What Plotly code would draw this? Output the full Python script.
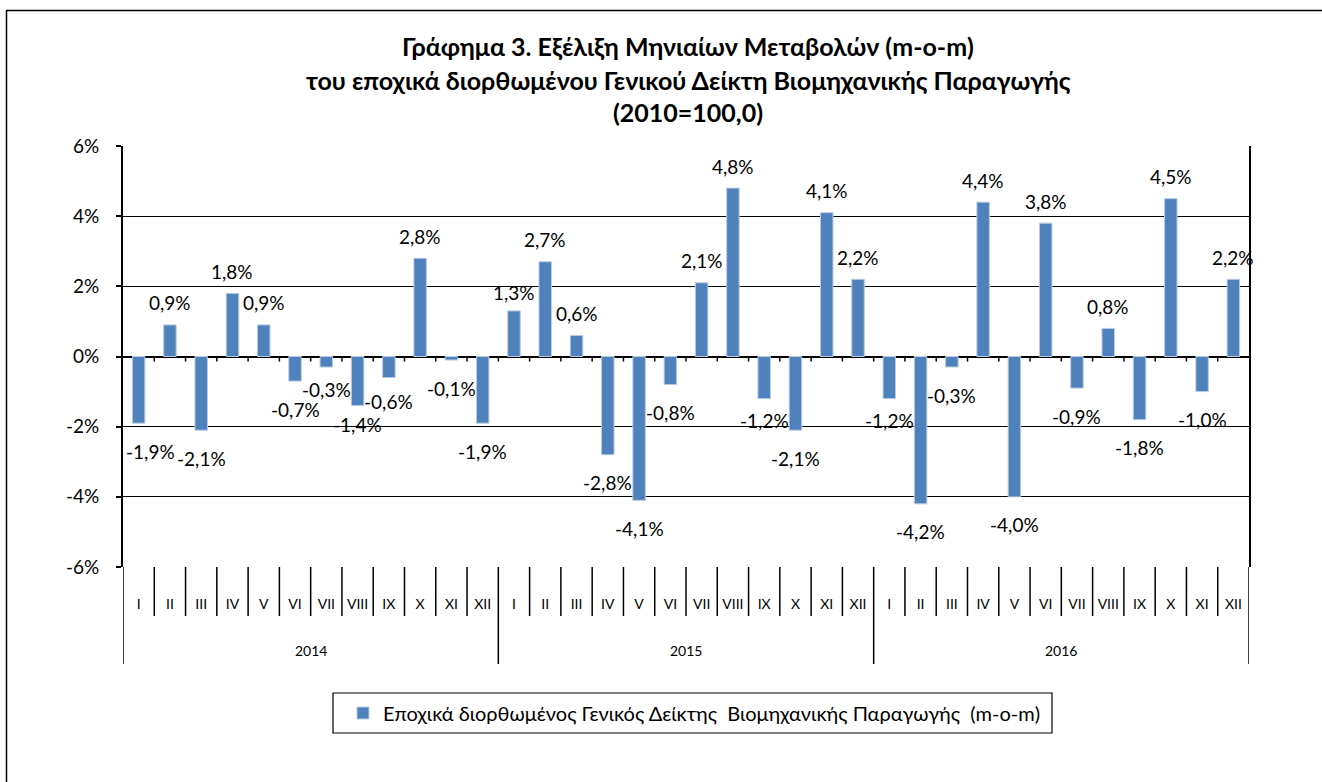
import plotly.graph_objects as go

# ---------------- data ----------------
MONTHS = ["I", "II", "III", "IV", "V", "VI", "VII", "VIII", "IX", "X", "XI", "XII"]
YEARS = ["2014", "2015", "2016"]
VALUES_2014 = [-1.9, 0.9, -2.1, 1.8, 0.9, -0.7, -0.3, -1.4, -0.6, 2.8, -0.1, -1.9]
VALUES_2015 = [1.3, 2.7, 0.6, -2.8, -4.1, -0.8, 2.1, 4.8, -1.2, -2.1, 4.1, 2.2]
VALUES_2016 = [-1.2, -4.2, -0.3, 4.4, -4.0, 3.8, -0.9, 0.8, -1.8, 4.5, -1.0, 2.2]
Y_TICKS = [-6, -4, -2, 0, 2, 4, 6]
SERIES_NAME = "Εποχικά διορθωμένος Γενικός Δείκτης  Βιομηχανικής Παραγωγής  (m-o-m)"
TITLE_LINES = [
    "Γράφημα 3. Εξέλιξη Μηνιαίων Μεταβολών (m-o-m)",
    "του εποχικά διορθωμένου Γενικού Δείκτη Βιομηχανικής Παραγωγής",
    "(2010=100,0)",
]

# ---------------- layout / style constants (pixels) ----------------
W, H = 1322, 782
L, R, T, B = 123, 1249, 146, 567
PW, PH = R - L, B - T
FONT = "Lato"
BAR_COLOR = "#4F81BD"
TITLE_CX = 688
TITLE_Y = [47, 80, 112]
TITLE_SIZE = 25
POS_GAP, NEG_GAP = 22, 28
# hand-placed label offsets (index -> (dx, gap)) as in the original chart
LABEL_NUDGE = {0: (12, 28), 6: (0, 22), 7: (0, 19), 8: (0, 24), 12: (0, 18),
               20: (0, 22), 24: (0, 22)}

values = VALUES_2014 + VALUES_2015 + VALUES_2016
year_values = [VALUES_2014, VALUES_2015, VALUES_2016]
x_idx = list(range(len(values)))
month_text = [m for _ in YEARS for m in MONTHS]


def fmt(v):
    return f"{v:.1f}".replace(".", ",") + "%"


def px_x(p):
    return (p - L) / PW


def px_y(p):
    return (B - p) / PH


fig = go.Figure()
fig.add_trace(go.Bar(
    x=x_idx, y=values, name=SERIES_NAME, width=0.4,
    marker=dict(color=BAR_COLOR, line=dict(color="#B8CCE4", width=1)),
    showlegend=True, hoverinfo="y",
))

annotations = []
# data labels
for i, v in zip(x_idx, values):
    dx, gap = LABEL_NUDGE.get(i, (0, POS_GAP if v >= 0 else NEG_GAP))
    annotations.append(dict(
        x=i, y=v, xref="x", yref="y", text=fmt(v), showarrow=False,
        yanchor="middle", xanchor="center", xshift=dx,
        yshift=gap if v >= 0 else -gap,
        font=dict(family=FONT, size=19, color="black"),
    ))

# year labels
start = 0
for yr, vals in zip(YEARS, year_values):
    n = len(vals)
    annotations.append(dict(
        x=start + (n - 1) / 2, y=0, xref="x", yref="paper", yshift=-83,
        text=yr, showarrow=False, yanchor="middle", xanchor="center",
        font=dict(family=FONT, size=14, color="black"),
    ))
    start += n

# title lines 2 and 3
for line, ypx in zip(TITLE_LINES[1:], TITLE_Y[1:]):
    annotations.append(dict(
        x=px_x(TITLE_CX), y=px_y(ypx), xref="paper", yref="paper",
        text=f"<b>{line}</b>", showarrow=False, yanchor="middle", xanchor="center",
        font=dict(family=FONT, size=TITLE_SIZE, color="black"),
    ))

shapes = []
# category separators in label area
start = 0
boundaries_year = set()
for vals in year_values:
    boundaries_year.add(start - 0.5)
    start += len(vals)
    boundaries_year.add(start - 0.5)
for i in range(len(values) + 1):
    b = i - 0.5
    length = 97 if b in boundaries_year else 49
    shapes.append(dict(
        type="line", xref="x", yref="paper", ysizemode="pixel", yanchor=0,
        x0=b, x1=b, y0=0, y1=-length, line=dict(color="black", width=1.5),
    ))
    # small ticks under the zero line
    if 0 < i < len(values):
        shapes.append(dict(
            type="line", xref="x", yref="y", ysizemode="pixel", yanchor=0,
            x0=b, x1=b, y0=0, y1=-5, line=dict(color="black", width=1.5),
        ))

# outer chart frame (left and top edges visible)
shapes.append(dict(type="line", xref="paper", yref="paper",
                   x0=px_x(6.5), x1=px_x(6.5), y0=px_y(10.5), y1=px_y(790),
                   line=dict(color="black", width=1.5)))
shapes.append(dict(type="line", xref="paper", yref="paper",
                   x0=px_x(6), x1=px_x(1330), y0=px_y(10.5), y1=px_y(10.5),
                   line=dict(color="black", width=1.5)))
# legend frame
shapes.append(dict(type="rect", xref="paper", yref="paper",
                   x0=px_x(333), x1=px_x(1052), y0=px_y(693), y1=px_y(733),
                   line=dict(color="black", width=1.2), fillcolor="rgba(0,0,0,0)"))

fig.update_layout(
    width=W, height=H,
    margin=dict(l=L, r=W - R, t=T, b=H - B, pad=0),
    paper_bgcolor="white", plot_bgcolor="white",
    font=dict(family=FONT, color="black"),
    title=dict(
        text=f"<b>{TITLE_LINES[0]}</b>", x=TITLE_CX / W, xanchor="center", xref="container",
        y=1 - TITLE_Y[0] / H, yanchor="middle", yref="container",
        font=dict(family=FONT, size=TITLE_SIZE, color="black"),
    ),
    bargap=0.6,
    xaxis=dict(
        range=[-0.5, len(values) - 0.5], tickvals=x_idx, ticktext=month_text,
        ticks="", showgrid=False, zeroline=False, showline=False,
        tickfont=dict(family=FONT, size=14, color="black"), ticklabelstandoff=27,
        fixedrange=True,
    ),
    yaxis=dict(
        range=[-6, 6], tickvals=Y_TICKS, ticktext=[f"{t}%" for t in Y_TICKS],
        showgrid=True, gridcolor="black", gridwidth=1,
        zeroline=True, zerolinecolor="black", zerolinewidth=1.5,
        showline=True, linecolor="black", linewidth=2, mirror=True,
        ticks="outside", ticklen=5, tickcolor="black", tickwidth=1.5,
        tickfont=dict(family=FONT, size=19, color="black"), ticklabelstandoff=13,
        fixedrange=True,
    ),
    legend=dict(
        x=px_x(343), y=px_y(713), xanchor="left", yanchor="middle",
        xref="paper", yref="paper", bgcolor="rgba(0,0,0,0)", borderwidth=0,
        font=dict(family=FONT, size=20, color="black"),
    ),
    showlegend=True,
    annotations=annotations,
    shapes=shapes,
)

fig.write_html("out.html", config={"displayModeBar": False},
               post_script="document.body.style.margin='0px';")
